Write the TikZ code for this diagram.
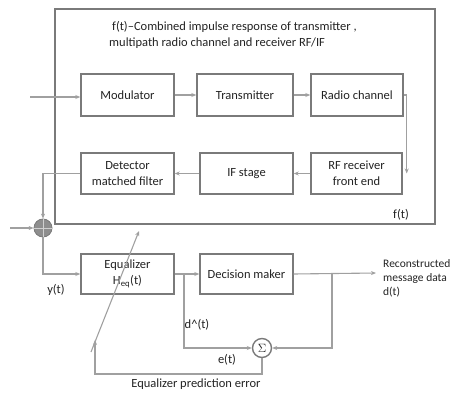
\documentclass[tikz,border=0pt]{standalone}
\usepackage{fontspec}
\setmainfont{Carlito}
\usetikzlibrary{arrows.meta,calc}
\definecolor{boxc}{HTML}{7A7A7A}
\definecolor{linec}{HTML}{A0A0A0}
\definecolor{txtc}{HTML}{222222}
\tikzset{
  blk/.style={draw=boxc, line width=1.4pt, minimum width=#1, minimum height=42pt, inner sep=1pt, text=txtc, align=center, font=\fontsize{12.5}{16}\selectfont},
  blk/.default=93pt,
  wire/.style={draw=linec, line width=1.1pt},
  arr/.style={wire, -{Stealth[length=5pt,width=4pt]}},
  lbl/.style={text=txtc, font=\fontsize{12.5}{16}\selectfont, inner sep=0pt},
}
\begin{document}
\begin{tikzpicture}[x=1pt,y=-1pt]
\useasboundingbox (0,0) rectangle (455,393);
\clip (0,0) rectangle (455,393);
% outer box
\node[draw=boxc, line width=1.4pt, minimum width=380pt, minimum height=215pt, inner sep=0pt] (big) at (245,116.5) {};
\node[lbl, anchor=west] (t1) at (112,27) {f(t)--Combined impulse response of transmitter ,};
\node[lbl, anchor=west] (t2) at (109,43) {multipath radio channel and receiver RF/IF};
\node[lbl] (ft) at (401,215) {f(t)};
% row 1
\node[blk] (mod) at (127.5,95) {Modulator};
\node[blk=96pt] (tx) at (245,95) {Transmitter};
\node[blk=92pt] (radio) at (357,95) {Radio channel};
% row 2
\node[blk, minimum height=41pt] (det) at (127.5,173.5) {Detector\\matched filter};
\node[blk, minimum height=41pt] (ifs) at (246.5,173.5) {IF stage};
\node[blk=91pt, minimum height=41pt] (rf) at (356.5,173.5) {RF receiver\\front end};
% row 3
\node[blk, minimum height=40pt] (eq) at (127.5,274) {Equalizer\\H\textsubscript{eq}(t)};
\node[blk, minimum height=40pt] (dec) at (246.5,274) {Decision maker};
% summing nodes
\node[circle, draw=boxc, fill=boxc!85, line width=0.8pt, minimum size=18pt, inner sep=0pt] (s1) at (43,228) {};
\draw[white!65!boxc, line width=0.6pt] (s1.north) -- (s1.south) (s1.west) -- (s1.east);
\node[circle, draw=boxc, fill=white, line width=1.4pt, minimum size=19pt, inner sep=0pt, text=txtc, font=\fontsize{12.5}{14}\selectfont] (sig) at (262,348) {$\Sigma$};
% coordinates
\coordinate (in1) at (30,97);
\coordinate (in2) at (10,228);
\coordinate (out) at (376,273);
\coordinate (b1) at (184,274);
\coordinate (b2) at (332,274);
\coordinate (rc) at ($(radio.east)+(3,0)$);
\coordinate (lb) at (95,374);
\coordinate (da) at (91,352);
\coordinate (db) at (139,231);
% connectors
\draw[arr] (in1) -- (in1 -| mod.west);
\draw[arr] (mod) -- (tx);
\draw[arr] (tx) -- (radio);
\draw[wire] (radio.east) -- (rc);
\draw[arr] (rc) -- (rc |- rf.east);
\draw[arr] (rf) -- (ifs);
\draw[arr] (ifs) -- (det);
\draw[arr] (det.west) -| (s1.north);
\draw[arr] (in2) -- (s1.west);
\draw[arr] (s1.south) |- (eq.west);
\draw[arr] (eq) -- (dec);
\draw[arr] (dec.east) -- (out);
\draw[arr] (b1) |- (sig.west);
\draw[arr] (b2) |- (sig.east);
\draw[arr] (sig.south) |- (lb) -- ++(0,-34);
\draw[arr] (da) -- (db);
% labels
\node[lbl] (yt) at (56,290) {y(t)};
\node[lbl] (dh) at (197,325) {d\^{}(t)};
\node[lbl] (et) at (227,360) {e(t)};
\node[lbl] (pe) at (196,384) {Equalizer prediction error};
\node[lbl, anchor=west, align=left, font=\fontsize{11.5}{15}\selectfont] (rec) at (383,278) {Reconstructed\\[-1pt]message data\\[-1pt]d(t)};
\end{tikzpicture}
\end{document}
